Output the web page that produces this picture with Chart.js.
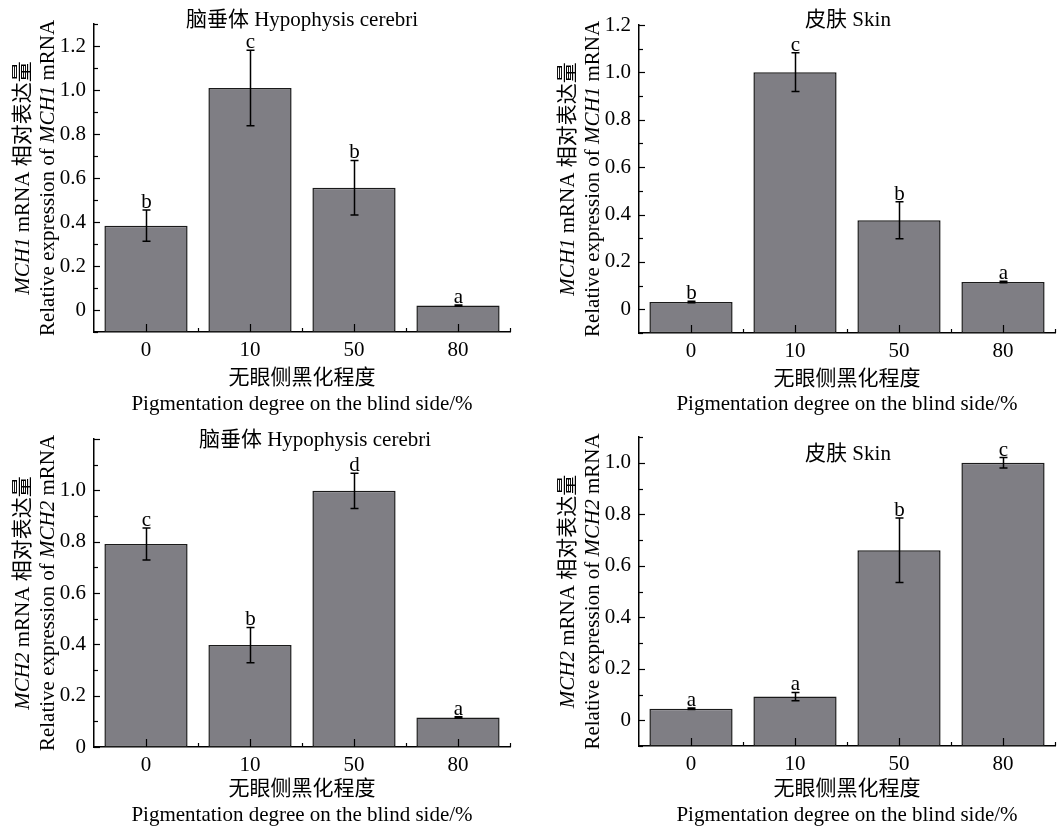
<!DOCTYPE html>
<html>
<head>
<meta charset="utf-8">
<script src="https://cdn.jsdelivr.net/npm/chart.js@4"></script>
<style>
  html, body { margin: 0; padding: 0; background: #fff; overflow: hidden; }
  canvas { position: absolute; }
</style>
</head>
<body>
<canvas id="c3" width="530" height="414" style="left:0;top:414px"></canvas>
<canvas id="c4" width="529" height="414" style="left:530px;top:414px"></canvas>
<canvas id="c1" width="530" height="428" style="left:0;top:0"></canvas>
<canvas id="c2" width="529" height="428" style="left:530px;top:0"></canvas>
<script>
// categories (pigmentation degree %)
const categories = ['0', '10', '50', '80'];

// MCH1 - hypophysis
const mch1Pit = [0.383, 1.009, 0.556, 0.020];
const mch1PitErr = [0.071, 0.172, 0.124, 0.003];
const mch1PitSig = ['b', 'c', 'b', 'a'];

// MCH1 - skin
const mch1Skin = [0.031, 1.001, 0.376, 0.115];
const mch1SkinErr = [0.003, 0.082, 0.078, 0.003];
const mch1SkinSig = ['b', 'c', 'b', 'a'];

// MCH2 - hypophysis
const mch2Pit = [0.791, 0.397, 0.998, 0.115];
const mch2PitErr = [0.062, 0.069, 0.069, 0.003];
const mch2PitSig = ['c', 'b', 'd', 'a'];

// MCH2 - skin
const mch2Skin = [0.045, 0.092, 0.660, 1.000];
const mch2SkinErr = [0.003, 0.016, 0.125, 0.020];
const mch2SkinSig = ['a', 'a', 'b', 'c'];

// tick labels
const yTicks13 = [0, 0.2, 0.4, 0.6, 0.8, 1.0, 1.2];
const yTicks12 = [0, 0.2, 0.4, 0.6, 0.8, 1.0, 1.2];
const yTicks10 = [0, 0.2, 0.4, 0.6, 0.8, 1.0];

const SERIF = '"Liberation Serif", "Noto Sans CJK SC", serif';
const FS = 21;

// draw a line made of plain/italic pieces, centred at (0,0) in current transform
function richText(ctx, parts, size) {
	var total = 0;
	parts.forEach(function(p) {
		ctx.font = (p.i ? 'italic ' : '') + size + 'px ' + SERIF;
		p.w = ctx.measureText(p.t).width;
		total += p.w;
	});
	var x = -total / 2;
	parts.forEach(function(p) {
		ctx.font = (p.i ? 'italic ' : '') + size + 'px ' + SERIF;
		ctx.fillText(p.t, x, 0);
		x += p.w;
	});
}

const extras = {
	id: 'extras',
	afterDraw: function(chart) {
		const o = chart.options.plugins.extras;
		const ctx = chart.ctx;
		const xs = chart.scales.x, ys = chart.scales.y;
		const a = chart.chartArea;
		ctx.save();
		ctx.strokeStyle = '#000';
		ctx.fillStyle = '#000';

		// inward ticks on y axis
		ctx.lineWidth = 1.2;
		for (var k = 0; ; k++) {
			var v = Math.round((o.yMin + k * 0.1) * 10) / 10;
			if (v > o.yMax + 1e-9) break;
			var py = Math.round(ys.getPixelForValue(v)) + 0.5;
			var major = Math.abs(Math.round(v * 10) % 2) === 0;
			ctx.beginPath();
			ctx.moveTo(a.left, py);
			ctx.lineTo(a.left + (major ? 6 : 4), py);
			ctx.stroke();
		}
		// inward ticks on x axis
		for (var i = 0; i < categories.length; i++) {
			var cx = Math.round(xs.getPixelForValue(i)) + 0.5;
			ctx.beginPath();
			ctx.moveTo(cx, a.bottom);
			ctx.lineTo(cx, a.bottom - 8);
			ctx.stroke();
			var bx = Math.round(xs.getPixelForValue(i + 0.5)) + 0.5;
			ctx.beginPath();
			ctx.moveTo(bx, a.bottom);
			ctx.lineTo(bx, a.bottom - 4);
			ctx.stroke();
		}

		// error bars and letters
		ctx.lineWidth = 1.5;
		o.values.forEach(function(val, i) {
			var cx = Math.round(xs.getPixelForValue(i)) + 0.5;
			var hi = ys.getPixelForValue(val + o.errors[i]);
			var lo = ys.getPixelForValue(val - o.errors[i]);
			ctx.beginPath();
			ctx.moveTo(cx, hi); ctx.lineTo(cx, lo);
			ctx.moveTo(cx - 4, hi); ctx.lineTo(cx + 4, hi);
			ctx.moveTo(cx - 4, lo); ctx.lineTo(cx + 4, lo);
			ctx.stroke();
			ctx.font = FS + 'px ' + SERIF;
			ctx.textAlign = 'center';
			ctx.textBaseline = 'alphabetic';
			ctx.fillText(o.letters[i], cx, hi - 2);
		});

		// panel title
		ctx.textAlign = 'left';
		ctx.textBaseline = 'middle';
		ctx.save();
		ctx.translate(o.titleX, o.titleY);
		richText(ctx, [{t: o.title}], FS);
		ctx.restore();

		// x axis titles
		var mx = (a.left + a.right) / 2;
		ctx.save();
		ctx.translate(mx, a.bottom + o.xGap1);
		richText(ctx, [{t: '无眼侧黑化程度'}], FS);
		ctx.restore();
		ctx.save();
		ctx.translate(mx, a.bottom + o.xGap2);
		richText(ctx, [{t: 'Pigmentation degree on the blind side/%'}], FS);
		ctx.restore();

		// y axis titles (rotated)
		var my = (a.top + a.bottom) / 2;
		ctx.save();
		ctx.translate(a.left - 71, my);
		ctx.rotate(-Math.PI / 2);
		richText(ctx, [{t: o.gene, i: true}, {t: ' mRNA 相对表达量'}], FS);
		ctx.restore();
		ctx.save();
		ctx.translate(a.left - 46, my);
		ctx.rotate(-Math.PI / 2);
		richText(ctx, [{t: 'Relative expression of '}, {t: o.gene, i: true}, {t: ' mRNA'}], FS);
		ctx.restore();

		ctx.restore();
	}
};

function drawPanel(id, p) {
	const canvas = document.getElementById(id);
	const W = canvas.width, H = canvas.height;
	const config = {
		type: 'bar',
		data: {
			labels: categories,
			datasets: [{
				data: p.values.map(function(v) { return [p.yMin, v]; }),
				backgroundColor: '#7f7e84',
				borderColor: '#1a1a1a',
				borderWidth: 1.5,
				borderSkipped: false,
				categoryPercentage: 1.0,
				barPercentage: 0.8
			}]
		},
		options: {
			responsive: false,
			animation: false,
			devicePixelRatio: 1,
			layout: {
				padding: {left: 0, top: p.area.t, right: W - p.area.r, bottom: 0}
			},
			plugins: {
				legend: {display: false},
				tooltip: {enabled: false},
				extras: {
					values: p.values, errors: p.errors, letters: p.letters,
					yMin: p.yMin, yMax: p.yMax, gene: p.gene,
					title: p.title, titleX: p.titleX, titleY: p.titleY,
					xGap1: p.xGap[0], xGap2: p.xGap[1]
				}
			},
			scales: {
				x: {
					grid: {display: false, drawTicks: false},
					border: {display: true, color: '#000', width: 1.5},
					ticks: {color: '#000', padding: 6, font: {family: SERIF, size: FS}},
					afterFit: function(s) { s.height = H - p.area.b; }
				},
				y: {
					min: p.yMin,
					max: p.yMax,
					grid: {display: false, drawTicks: false},
					border: {display: true, color: '#000', width: 1.5},
					ticks: {
						color: '#000', padding: 8, font: {family: SERIF, size: FS},
						callback: function(v) { return v === 0 ? '0' : v.toFixed(1); }
					},
					afterBuildTicks: function(s) {
						s.ticks = p.yTicks.map(function(v) { return {value: v}; });
					},
					afterFit: function(s) { s.width = p.area.l; }
				}
			} //end of scales
		}, //end of options
		plugins: [extras]
	}; //end of config
	return new Chart(canvas, config);
}

drawPanel('c1', {
	values: mch1Pit, errors: mch1PitErr, letters: mch1PitSig, gene: 'MCH1',
	yMin: -0.1, yMax: 1.3, yTicks: yTicks13,
	area: {l: 94, t: 24, r: 510, b: 332}, xGap: [46, 72],
	title: '脑垂体 Hypophysis cerebri', titleX: 302, titleY: 20
});
drawPanel('c2', {
	values: mch1Skin, errors: mch1SkinErr, letters: mch1SkinSig, gene: 'MCH1',
	yMin: -0.1, yMax: 1.2, yTicks: yTicks12,
	area: {l: 109, t: 25, r: 525, b: 333}, xGap: [46, 71],
	title: '皮肤 Skin', titleX: 318, titleY: 20
});
drawPanel('c3', {
	values: mch2Pit, errors: mch2PitErr, letters: mch2PitSig, gene: 'MCH2',
	yMin: 0, yMax: 1.2, yTicks: yTicks10,
	area: {l: 94, t: 25, r: 510, b: 333}, xGap: [42, 68],
	title: '脑垂体 Hypophysis cerebri', titleX: 315, titleY: 26
});
drawPanel('c4', {
	values: mch2Skin, errors: mch2SkinErr, letters: mch2SkinSig, gene: 'MCH2',
	yMin: -0.1, yMax: 1.1, yTicks: yTicks10,
	area: {l: 109, t: 23, r: 525, b: 332}, xGap: [43, 69],
	title: '皮肤 Skin', titleX: 318, titleY: 40
});
</script>
</body>
</html>
